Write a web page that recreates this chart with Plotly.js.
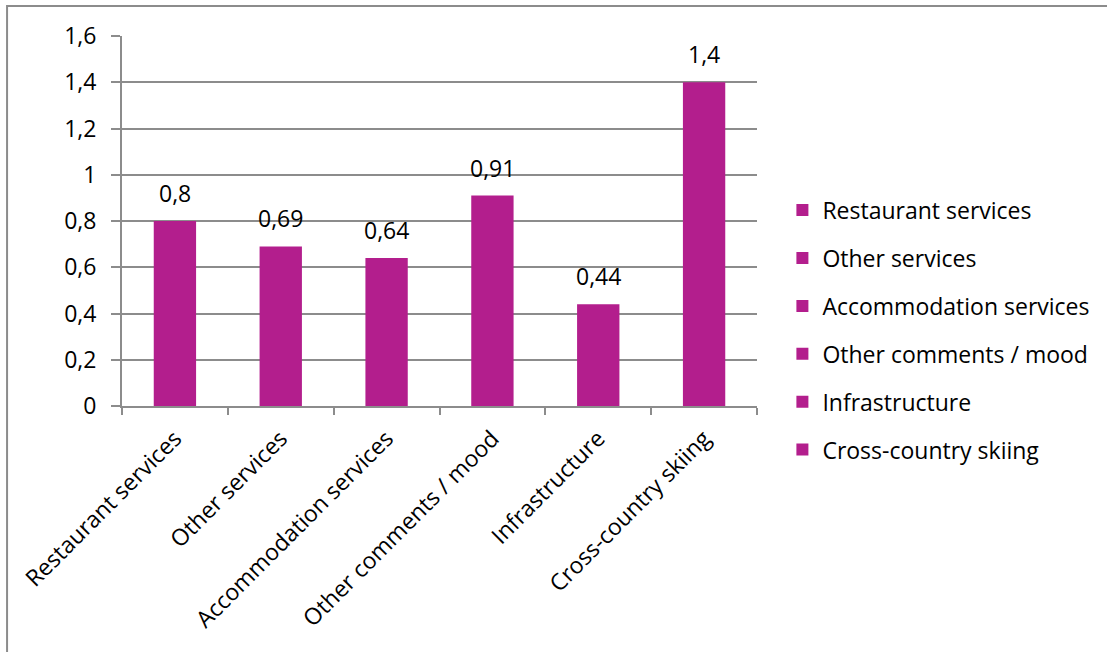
<!DOCTYPE html>
<html>
<head>
<meta charset="utf-8">
<script src="https://cdn.plot.ly/plotly-3.0.1.min.js"></script>
<style>html,body{margin:0;padding:0;background:#fff;}#chart{width:1107px;height:652px;}</style>
</head>
<body>
<div id="chart"></div>
<script>
const categories = ["Restaurant services", "Other services", "Accommodation services", "Other comments / mood", "Infrastructure", "Cross-country skiing"];
const values = [0.8, 0.69, 0.64, 0.91, 0.44, 1.4];
const tickVals = [0, 0.2, 0.4, 0.6, 0.8, 1, 1.2, 1.4, 1.6];
const tickText = ["0", "0,2", "0,4", "0,6", "0,8", "1", "1,2", "1,4", "1,6"];

const barColor = "#B31E8D";
const gridColor = "#8C8C8C";
const fontFam = "'Open Sans', sans-serif";
const fs = 23;

const traces = categories.map((c, i) => ({
  type: "bar",
  name: c,
  x: [c],
  y: [values[i]],
  width: 0.4,
  marker: {color: barColor},
  legendgroup: "g" + i,
  hoverinfo: "x+y"
}));

const annotations = categories.map((c, i) => ({
  x: c, y: values[i], xref: "x", yref: "y",
  text: String(values[i]).replace(".", ","),
  showarrow: false, yanchor: "middle", yshift: 28,
  font: {family: fontFam, size: fs, color: "#000"}
}));

const layout = {
  width: 1107, height: 652, autosize: false,
  margin: {l: 122, r: 350, t: 36, b: 246},
  paper_bgcolor: "#fff", plot_bgcolor: "#fff",
  font: {family: fontFam, size: fs, color: "#000"},
  barmode: "overlay",
  showlegend: true,
  legend: {x: 1.04, xanchor: "left", y: 0.205, yanchor: "middle",
           font: {family: fontFam, size: fs, color: "#000"},
           tracegroupgap: 15, traceorder: "grouped", itemclick: false},
  xaxis: {
    type: "category", categoryorder: "array", categoryarray: categories,
    tickangle: -45, ticks: "outside", tickson: "boundaries", ticklen: 7,
    tickcolor: gridColor, tickwidth: 2, showline: true, linecolor: gridColor, linewidth: 2,
    showgrid: false, tickfont: {family: fontFam, size: fs, color: "#000"}, automargin: false,
    ticklabelstandoff: 8
  },
  yaxis: {
    range: [0, 1.6], tickmode: "array", tickvals: tickVals, ticktext: tickText,
    ticks: "outside", ticklen: 9, tickcolor: gridColor, tickwidth: 2,
    showline: true, linecolor: gridColor, linewidth: 2,
    showgrid: true, gridcolor: gridColor, gridwidth: 2, zeroline: false,
    tickfont: {family: fontFam, size: fs, color: "#000"}, automargin: false,
    ticklabelstandoff: 10
  },
  annotations: annotations,
  shapes: [{type: "rect", xref: "paper", yref: "paper",
            x0: -0.181, x1: 1.6, y0: -0.8, y1: 1.081,
            line: {color: gridColor, width: 2}, fillcolor: "rgba(0,0,0,0)", layer: "below"}]
};

Plotly.newPlot("chart", traces, layout, {displayModeBar: false, staticPlot: true});
</script>
</body>
</html>
